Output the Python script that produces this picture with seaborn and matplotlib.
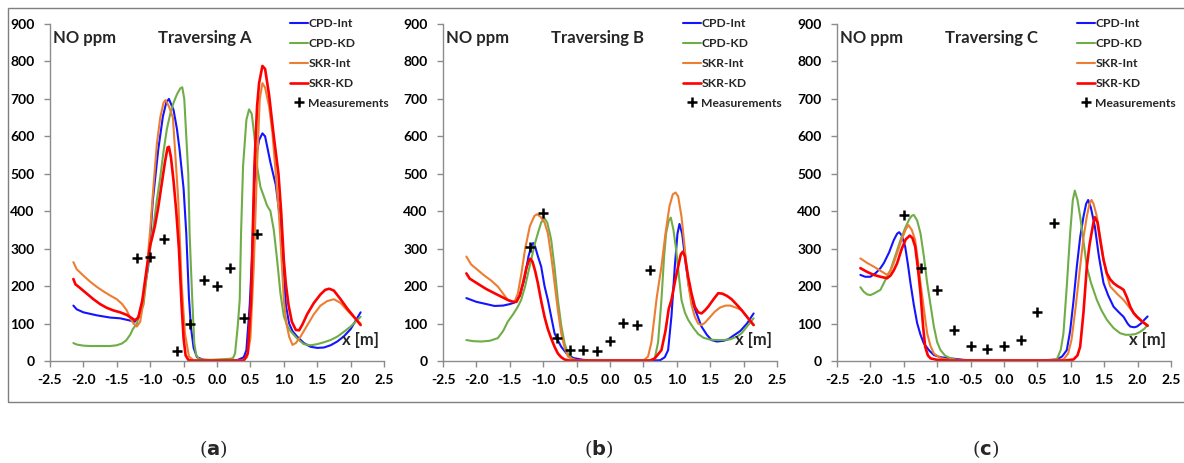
import numpy as np
import pandas as pd
import matplotlib
matplotlib.use("Agg")
import matplotlib.pyplot as plt
import seaborn as sns
from matplotlib.lines import Line2D
from matplotlib.patches import Rectangle

sns.set_theme(style="white")
plt.rcParams['font.family'] = ['Lato', 'DejaVu Sans']
plt.rcParams['axes.unicode_minus'] = False

# ---------------- data: Traversing A ----------------
a_cpd_int_x = [-2.15, -2.1, -2.0, -1.8, -1.6, -1.45, -1.3, -1.23, -1.17, -1.11, -1.03, -0.96, -0.88, -0.81, -0.76, -0.72,
               -0.65, -0.6, -0.56, -0.5, -0.46, -0.42, -0.39, -0.35, -0.3, -0.2, 0.0, 0.3, 0.4, 0.44, 0.49, 0.53, 0.56,
               0.6, 0.63, 0.68, 0.72, 0.8, 0.88, 0.93, 0.97, 1.0, 1.03, 1.08, 1.13, 1.2, 1.3, 1.4, 1.5, 1.6, 1.7, 1.8,
               1.9, 2.0, 2.15]
a_cpd_int_y = [148, 138, 130, 122, 116, 114, 108, 105, 120, 163, 252, 430, 564, 653, 690, 700,
               670, 620, 564, 460, 341, 170, 90, 35, 10, 3, 1, 2, 10, 29, 150, 300, 475,
               560, 590, 608, 600, 530, 470, 400, 320, 240, 150, 100, 80, 65, 48, 38, 35, 36, 42, 52,
               66, 85, 130]
a_cpd_kd_x = [-2.15, -2.1, -2.0, -1.9, -1.8, -1.7, -1.6, -1.5, -1.42, -1.36, -1.3, -1.26, -1.2, -1.16, -1.1, -1.05,
              -1.0, -0.95, -0.9, -0.85, -0.8, -0.75, -0.7, -0.65, -0.6, -0.55, -0.52, -0.49, -0.46, -0.43, -0.41,
              -0.39, -0.37, -0.34, -0.31, -0.27, -0.1, 0.1, 0.2, 0.24, 0.27, 0.31, 0.34, 0.36, 0.39, 0.44, 0.48,
              0.52, 0.56, 0.6, 0.65, 0.7, 0.75, 0.8, 0.85, 0.9, 0.95, 1.0, 1.05, 1.1, 1.2, 1.3, 1.4, 1.5, 1.6,
              1.7, 1.8, 1.9, 2.0, 2.15]
a_cpd_kd_y = [48, 44, 41, 40, 40, 40, 40, 42, 47, 55, 70, 85, 100, 125, 150, 230,
              300, 360, 430, 490, 560, 620, 660, 690, 712, 728, 731, 700, 600, 500, 341,
              250, 163, 47, 15, 5, 3, 5, 6, 8, 20, 92, 163, 341, 520, 644, 672,
              660, 600, 520, 465, 440, 415, 400, 350, 270, 180, 120, 95, 80, 60, 45, 42, 45, 50,
              56, 65, 78, 92, 118]
a_skr_int_x = [-2.15, -2.1, -2.0, -1.9, -1.8, -1.7, -1.6, -1.5, -1.42, -1.35, -1.3, -1.25, -1.2, -1.15, -1.1, -1.05,
               -1.0, -0.95, -0.9, -0.85, -0.8, -0.77, -0.72, -0.66, -0.62, -0.58, -0.53, -0.48, -0.42, -0.35, 0.0,
               0.4, 0.45, 0.5, 0.55, 0.6, 0.64, 0.68, 0.72, 0.78, 0.83, 0.88, 0.93, 0.97, 1.0, 1.04, 1.08, 1.13,
               1.18, 1.25, 1.35, 1.45, 1.55, 1.65, 1.75, 1.85, 1.95, 2.05, 2.15]
a_skr_int_y = [264, 245, 228, 212, 198, 186, 175, 165, 152, 135, 115, 100, 92, 105, 160, 250,
               350, 470, 580, 650, 690, 697, 680, 650, 540, 430, 208, 74, 12, 2, 1,
               2, 10, 60, 250, 520, 700, 742, 730, 680, 608, 500, 385, 260, 163, 100, 65, 43,
               48, 65, 95, 125, 148, 160, 165, 155, 135, 117, 100]
a_skr_kd_x = [-2.15, -2.12, -2.05, -1.95, -1.85, -1.75, -1.65, -1.55, -1.45, -1.35, -1.28, -1.23, -1.18, -1.12, -1.05,
              -1.0, -0.97, -0.93, -0.88, -0.83, -0.78, -0.74, -0.72, -0.69, -0.65, -0.61, -0.57, -0.53, -0.5, -0.47,
              -0.43, -0.38, 0.0, 0.4, 0.46, 0.51, 0.56, 0.6, 0.63, 0.68, 0.72, 0.78, 0.85, 0.92, 0.96, 1.0, 1.03,
              1.07, 1.12, 1.18, 1.23, 1.28, 1.35, 1.45, 1.55, 1.62, 1.68, 1.75, 1.85, 1.95, 2.05, 2.15]
a_skr_kd_y = [219, 205, 195, 180, 165, 152, 142, 135, 130, 123, 115, 109, 115, 160, 250,
              310, 330, 360, 410, 470, 530, 570, 572, 545, 480, 400, 300, 150, 60, 15,
              3, 1, 1, 1, 20, 163, 520, 680, 742, 788, 780, 710, 600, 500, 400, 270, 207,
              150, 105, 83, 82, 98, 125, 155, 178, 190, 193, 188, 165, 140, 118, 96]
a_meas_x = [-1.2, -1.0, -0.8, -0.6, -0.4, -0.2, 0.0, 0.2, 0.4, 0.6]
a_meas_y = [276, 279, 326, 28, 100, 216, 200, 249, 116, 339]

# ---------------- data: Traversing B ----------------
b_cpd_int_x = [-2.15, -2.0, -1.85, -1.73, -1.6, -1.5, -1.43, -1.35, -1.28, -1.22, -1.17, -1.15, -1.12, -1.08, -1.03,
               -0.98, -0.93, -0.88, -0.83, -0.78, -0.73, -0.65, -0.55, -0.4, -0.23, 0.5, 0.75, 0.82, 0.87, 0.92,
               0.97, 1.01, 1.04, 1.08, 1.14, 1.18, 1.22, 1.3, 1.37, 1.45, 1.52, 1.6, 1.7, 1.77, 1.85, 1.95, 2.05, 2.15]
b_cpd_int_y = [168, 158, 152, 147, 148, 152, 156, 175, 220, 280, 310, 315, 305, 280, 252,
               200, 163, 118, 74, 55, 38, 20, 8, 3, 1, 1, 2, 10, 29, 120,
               252, 340, 366, 340, 252, 200, 163, 125, 92, 70, 56, 52, 54, 58, 68, 80, 100, 127]
b_cpd_kd_x = [-2.15, -2.05, -1.93, -1.8, -1.68, -1.6, -1.53, -1.45, -1.38, -1.33, -1.27, -1.22, -1.18, -1.13, -1.08,
              -1.03, -0.98, -0.94, -0.9, -0.88, -0.83, -0.78, -0.73, -0.68, -0.63, -0.58, -0.5, 0.0, 0.6, 0.67,
              0.72, 0.77, 0.81, 0.84, 0.88, 0.91, 0.95, 0.99, 1.03, 1.07, 1.12, 1.17, 1.25, 1.32, 1.4, 1.5, 1.6,
              1.7, 1.8, 1.9, 1.97, 2.05, 2.15]
b_cpd_kd_y = [56, 53, 52, 54, 61, 80, 105, 125, 145, 163, 200, 240, 270, 310, 341,
              370, 381, 370, 340, 323, 250, 163, 95, 47, 20, 7, 2, 1, 1, 7,
              50, 163, 280, 341, 375, 383, 350, 297, 230, 163, 130, 110, 88, 72, 62, 57, 56,
              56, 58, 65, 74, 92, 114]
b_skr_int_x = [-2.15, -2.08, -1.98, -1.88, -1.78, -1.68, -1.6, -1.53, -1.48, -1.43, -1.38, -1.33, -1.27, -1.2, -1.13,
               -1.09, -1.04, -0.98, -0.93, -0.88, -0.83, -0.78, -0.73, -0.68, -0.63, -0.55, -0.4, 0.5, 0.57, 0.62,
               0.66, 0.7, 0.77, 0.83, 0.89, 0.94, 0.98, 1.02, 1.07, 1.12, 1.17, 1.22, 1.27, 1.32, 1.37, 1.42, 1.5,
               1.57, 1.65, 1.73, 1.8, 1.88, 1.97, 2.05, 2.15]
b_skr_int_y = [279, 258, 243, 228, 215, 199, 180, 163, 159, 158, 180, 230, 300, 360, 388,
               392, 385, 370, 341, 280, 208, 135, 74, 35, 12, 3, 1, 1, 12, 50,
               110, 170, 252, 340, 413, 445, 450, 440, 386, 300, 208, 150, 118, 100, 96, 102, 118,
               132, 143, 148, 148, 143, 136, 118, 96]
b_skr_kd_x = [-2.15, -2.1, -2.03, -1.95, -1.85, -1.73, -1.63, -1.53, -1.45, -1.4, -1.35, -1.3, -1.25, -1.21, -1.19,
              -1.16, -1.12, -1.08, -1.03, -0.98, -0.93, -0.88, -0.83, -0.78, -0.73, -0.68, -0.6, 0.6, 0.67, 0.77,
              0.83, 0.88, 0.92, 0.97, 1.02, 1.06, 1.09, 1.12, 1.17, 1.22, 1.27, 1.32, 1.37, 1.42, 1.47, 1.55,
              1.62, 1.68, 1.75, 1.82, 1.9, 1.97, 2.05, 2.15]
b_skr_kd_y = [234, 220, 212, 203, 192, 181, 172, 163, 158, 158, 175, 210, 250, 270, 273,
              265, 240, 208, 160, 118, 85, 60, 38, 20, 10, 4, 1, 1, 7, 29,
              80, 140, 163, 210, 252, 285, 292, 280, 225, 180, 145, 130, 127, 135, 145, 165,
              181, 180, 174, 165, 150, 136, 118, 96]
b_meas_x = [-1.2, -1.0, -0.8, -0.6, -0.4, -0.2, 0.0, 0.2, 0.4, 0.6]
b_meas_y = [304, 395, 61, 29, 29, 28, 54, 102, 96, 243]

# ---------------- data: Traversing C ----------------
c_cpd_int_x = [-2.15, -2.08, -2.0, -1.92, -1.85, -1.8, -1.72, -1.65, -1.6, -1.57, -1.53, -1.48, -1.44, -1.4, -1.35,
               -1.3, -1.25, -1.2, -1.12, -1.05, -0.95, -0.8, -0.6, -0.4, 0.5, 0.79, 0.87, 0.94, 0.99, 1.04, 1.09,
               1.14, 1.19, 1.23, 1.26, 1.3, 1.36, 1.42, 1.49, 1.56, 1.64, 1.72, 1.79, 1.85, 1.89, 1.95, 1.99, 2.05,
               2.1, 2.15]
c_cpd_int_y = [230, 225, 225, 235, 248, 261, 290, 323, 340, 344, 335, 306, 260, 208, 150,
               101, 70, 47, 28, 16, 10, 7, 3, 1, 1, 4, 12, 29, 80, 160, 252,
               330, 386, 420, 430, 410, 359, 280, 208, 175, 145, 130, 118, 100, 92, 90, 92, 100,
               110, 119]
c_cpd_kd_x = [-2.15, -2.1, -2.05, -2.0, -1.95, -1.9, -1.85, -1.78, -1.7, -1.62, -1.55, -1.48, -1.42, -1.38, -1.35,
              -1.3, -1.25, -1.2, -1.15, -1.1, -1.05, -1.0, -0.95, -0.88, -0.8, -0.7, -0.5, 0.6, 0.79, 0.85, 0.89,
              0.94, 0.99, 1.03, 1.06, 1.1, 1.14, 1.19, 1.24, 1.3, 1.39, 1.46, 1.54, 1.64, 1.74, 1.82, 1.89, 1.97,
              2.04, 2.1, 2.15]
c_cpd_kd_y = [197, 185, 178, 176, 180, 185, 190, 215, 243, 285, 323, 355, 378, 388, 390,
              375, 341, 280, 208, 150, 92, 50, 29, 14, 7, 3, 1, 1, 4, 30, 74,
              200, 341, 430, 455, 430, 386, 320, 252, 210, 163, 135, 110, 88, 74, 70, 70, 72,
              78, 86, 96]
c_skr_int_x = [-2.15, -2.05, -1.95, -1.85, -1.75, -1.7, -1.65, -1.6, -1.53, -1.47, -1.43, -1.38, -1.33, -1.29, -1.25,
               -1.2, -1.15, -1.1, -1.05, -0.95, -0.85, -0.6, 0.7, 0.89, 0.96, 1.01, 1.07, 1.14, 1.19, 1.24, 1.28,
               1.31, 1.34, 1.39, 1.44, 1.49, 1.54, 1.59, 1.69, 1.79, 1.89, 1.99, 2.07, 2.15]
c_skr_int_y = [274, 262, 252, 241, 230, 240, 262, 288, 325, 352, 363, 350, 323, 270, 208,
               140, 74, 40, 20, 8, 4, 1, 1, 4, 20, 56, 140, 252, 330, 386, 420,
               430, 420, 386, 330, 270, 230, 199, 180, 163, 140, 119, 106, 96]
c_skr_kd_x = [-2.15, -2.05, -1.95, -1.85, -1.75, -1.7, -1.65, -1.6, -1.53, -1.47, -1.41, -1.37, -1.33, -1.29, -1.25,
              -1.21, -1.18, -1.14, -1.1, -1.0, -0.8, 0.9, 1.04, 1.1, 1.14, 1.19, 1.24, 1.28, 1.31, 1.34, 1.36, 1.4,
              1.44, 1.49, 1.54, 1.59, 1.64, 1.7, 1.75, 1.79, 1.84, 1.89, 1.94, 1.99, 2.07, 2.15]
c_skr_kd_y = [248, 238, 230, 225, 221, 228, 242, 261, 300, 325, 335, 328, 306, 250, 181,
              90, 38, 15, 7, 3, 1, 1, 4, 15, 38, 130, 252, 310, 341, 370, 384, 370,
              323, 270, 234, 218, 208, 200, 195, 190, 170, 145, 128, 118, 105, 94]
c_meas_x = [-1.5, -1.25, -1.0, -0.75, -0.5, -0.25, 0.0, 0.25, 0.5, 0.75]
c_meas_y = [390, 248, 190, 83, 40, 32, 40, 56, 130, 368]

series_names = ["CPD-Int", "CPD-KD", "SKR-Int", "SKR-KD"]
panel_titles = ["Traversing A", "Traversing B", "Traversing C"]
panel_letters = ["a", "b", "c"]
y_ticks = list(range(0, 901, 100))
x_ticks = [-2.5, -2.0, -1.5, -1.0, -0.5, 0.0, 0.5, 1.0, 1.5, 2.0, 2.5]

panels = [
    ([(a_cpd_int_x, a_cpd_int_y), (a_cpd_kd_x, a_cpd_kd_y), (a_skr_int_x, a_skr_int_y), (a_skr_kd_x, a_skr_kd_y)],
     (a_meas_x, a_meas_y)),
    ([(b_cpd_int_x, b_cpd_int_y), (b_cpd_kd_x, b_cpd_kd_y), (b_skr_int_x, b_skr_int_y), (b_skr_kd_x, b_skr_kd_y)],
     (b_meas_x, b_meas_y)),
    ([(c_cpd_int_x, c_cpd_int_y), (c_cpd_kd_x, c_cpd_kd_y), (c_skr_int_x, c_skr_int_y), (c_skr_kd_x, c_skr_kd_y)],
     (c_meas_x, c_meas_y)),
]

colors = {"CPD-Int": "#1414FF", "CPD-KD": "#70AD47", "SKR-Int": "#ED7D31", "SKR-KD": "#FF0000"}
widths = {"CPD-Int": 1.5, "CPD-KD": 1.5, "SKR-Int": 1.5, "SKR-KD": 1.9}
spine_col = "#8C8C8C"

W, H = 1184, 463
fig = plt.figure(figsize=(W / 100, H / 100), dpi=100)
lefts = [50, 443, 837]
label_cx = [213, 599, 986]

for i, (curves, meas) in enumerate(panels):
    ax = fig.add_axes([lefts[i] / W, (H - 361) / H, 334 / W, 337 / H])
    rows = []
    for name, (xs, ys) in zip(series_names, curves):
        rows.append(pd.DataFrame({"x": xs, "y": ys, "series": name}))
    df = pd.concat(rows, ignore_index=True)
    for name in series_names:
        sns.lineplot(data=df[df.series == name], x="x", y="y", color=colors[name], lw=widths[name],
                     sort=False, estimator=None, ax=ax, legend=False)
    sns.scatterplot(x=meas[0], y=meas[1], marker="+", color="black", s=55, linewidth=1.8, ax=ax, zorder=5)

    ax.set_xlim(-2.5, 2.5)
    ax.set_ylim(0, 900)
    ax.set_xticks(x_ticks)
    ax.set_xticklabels([f"{v:.1f}" for v in x_ticks])
    ax.set_yticks(y_ticks)
    ax.set_xlabel("")
    ax.set_ylabel("")
    for s in ["top", "right"]:
        ax.spines[s].set_visible(False)
    for s in ["left", "bottom"]:
        ax.spines[s].set_color(spine_col)
        ax.spines[s].set_linewidth(1.0)
    ax.tick_params(axis="both", which="both", direction="out", length=4, width=1, color=spine_col,
                   labelsize=10, labelcolor="black")
    ax.tick_params(axis="x", pad=5, bottom=True)
    ax.tick_params(axis="y", pad=7, left=True)
    for lab in ax.get_xticklabels() + ax.get_yticklabels():
        lab.set_fontweight("bold")

    ax.text(0.009, 0.958, "NO ppm", transform=ax.transAxes, fontsize=12, fontweight="bold",
            ha="left", va="center")
    ax.text(0.323, 0.958, panel_titles[i], transform=ax.transAxes, fontsize=12, fontweight="bold",
            ha="left", va="center")
    ax.text(0.873, 0.062, "x [m]", transform=ax.transAxes, fontsize=12, fontweight="bold",
            ha="left", va="center")

    handles = [Line2D([], [], color=colors[n], lw=widths[n]) for n in series_names]
    handles.append(Line2D([], [], ls="none", marker="+", color="black", ms=7.5, mew=1.8))
    ax.legend(handles, series_names + ["Measurements"], loc="upper left", bbox_to_anchor=(0.719, 1.018),
              frameon=False, handlelength=1.45, handletextpad=0.05, labelspacing=0.74, borderpad=0,
              borderaxespad=0, prop={"weight": "bold", "size": 8.7})

    fig.text(label_cx[i] / W, 1 - 449 / H, "(" + r"$\mathbf{" + panel_letters[i] + "}$" + ")",
             ha="center", va="center", fontsize=14, family="DejaVu Serif")

fig.add_artist(Rectangle((8 / W, (H - 402) / H), (1195 - 8) / W, (402 - 8) / H, transform=fig.transFigure,
                         fill=False, ec="#7F7F7F", lw=1.0))

fig.savefig("out.png", dpi=100)
